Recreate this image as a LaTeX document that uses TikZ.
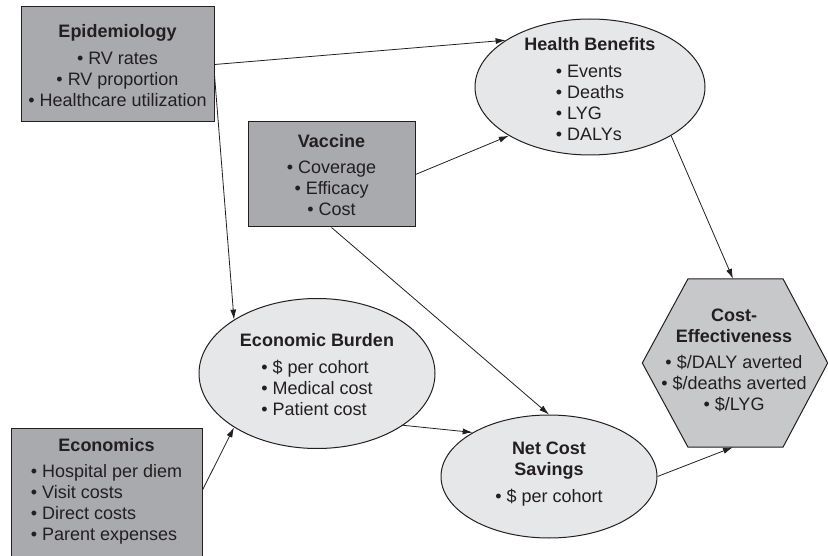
\documentclass[tikz,border=0pt]{standalone}
\usepackage{fontspec}
\setmainfont{Liberation Sans}
\usetikzlibrary{arrows.meta,shapes.geometric}
\definecolor{boxgray}{RGB}{168,170,173}
\definecolor{ellgray}{RGB}{230,231,232}
\definecolor{hexgray}{RGB}{199,200,202}
\definecolor{ink}{RGB}{35,31,32}
\begin{document}
\begin{tikzpicture}[x=1pt,y=-1pt,
  every node/.style={text=ink},
  txt/.style={align=center, inner sep=0pt, font=\fontsize{18}{21}\selectfont},
  inbox/.style={draw=ink, fill=boxgray, line width=1pt, inner sep=0pt},
  ellbox/.style={ellipse, draw=ink, fill=ellgray, line width=1pt, inner sep=0pt},
  hexframe/.style={inner sep=0pt, minimum width=185pt, minimum height=168pt},
  arr/.style={draw=ink, line width=0.8pt, -{Latex[length=10pt,width=6pt]}}]
\useasboundingbox (0,0) rectangle (828,556);
\clip (0,0) rectangle (828,556);
\fill[white] (0,0) rectangle (828,556);
% shapes
\node[inbox, minimum width=193pt, minimum height=115pt] (epi) at (117.5,64.5) {};
\node[inbox, minimum width=167pt, minimum height=105pt] (vac) at (331.5,174.5) {};
\node[inbox, minimum width=191pt, minimum height=144pt] (econ) at (106.5,500) {};
\node[ellbox, minimum width=230pt, minimum height=136pt] (hb) at (590,87) {};
\node[ellbox, minimum width=236pt, minimum height=150pt] (eb) at (317,373.5) {};
\node[ellbox, minimum width=216pt, minimum height=123pt] (ncs) at (549,476.5) {};
\node[hexframe] (ce) at (735,363) {};
\draw[draw=ink, fill=hexgray, line width=1pt]
  (ce.west) -- ([xshift=-47pt]ce.north) -- ([xshift=48pt]ce.north) -- (ce.east)
  -- ([xshift=48pt]ce.south) -- ([xshift=-47pt]ce.south) -- cycle;
% texts
\node[txt] (epit) at (117.5,65.5) {\textbf{Epidemiology}\\[5.5pt] • RV rates\\ • RV proportion\\ • Healthcare utilization};
\node[txt] (vact) at (331.5,175) {\textbf{Vaccine}\\[5.5pt] • Coverage\\ • Efficacy\\ • Cost};
\node[txt] (econt) at (106.5,492.5) {\textbf{Economics}\\[5.5pt]\begin{tabular}[t]{@{}l@{}}• Hospital per diem\\ • Visit costs\\ • Direct costs\\ • Parent expenses\end{tabular}};
\node[txt] (hbt) at (590,92) {\textbf{Health Benefits}\\[5.5pt]\begin{tabular}[t]{@{}l@{}}• Events\\ • Deaths\\ • LYG\\ • DALYs\end{tabular}};
\node[txt] (ebt) at (317,377.5) {\textbf{Economic Burden}\\[5.5pt]\begin{tabular}[t]{@{}l@{}}• \$ per cohort\\ • Medical cost\\ • Patient cost\end{tabular}};
\node[txt] (ncst) at (549,474) {\textbf{Net Cost}\\ \textbf{Savings}\\[5.5pt] • \$ per cohort};
\node[txt] (cet) at (734,360.5) {\textbf{Cost-}\\ \textbf{Effectiveness}\\[5.5pt] • \$/DALY averted\\ • \$/deaths averted\\ • \$/LYG};
% connectors
\draw[arr] (epi.east) -- (hb.151);
\draw[arr] ([yshift=-10.5pt]epi.east) -- (eb.147);
\draw[arr] (vac.east) -- (hb.211);
\draw[arr] (vac.south) -- (ncs.north);
\draw[arr] (hb.-31) -- ([xshift=-2pt]ce.north);
\draw[arr] ([yshift=10pt]econ.east) -- (eb.213);
\draw[arr] (eb.-31) -- (ncs.150);
\draw[arr] (ncs.east) -- ([xshift=-2pt]ce.south);
\end{tikzpicture}
\end{document}
